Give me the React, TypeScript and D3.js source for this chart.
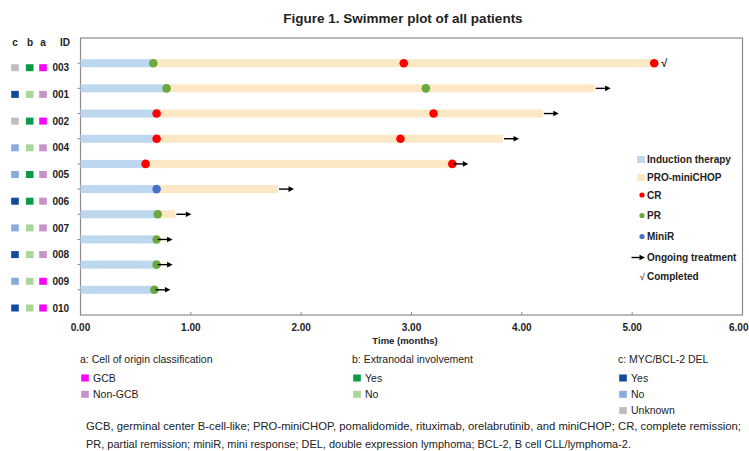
import React from 'react'
import * as d3 from 'd3'

// patients, top to bottom
const ids = ['003', '001', '002', '004', '005', '006', '007', '008', '009', '010']
// months
const inductionEnd = [0.66, 0.78, 0.69, 0.69, 0.59, 0.69, 0.7, 0.69, 0.69, 0.67]
const regimenEnd = [5.2, 4.66, 4.19, 3.83, 3.37, 1.79, 0.86, 0.69, 0.69, 0.67]
const ongoing = [false, true, true, true, true, true, true, true, true, true]

// [id, time, response]
const responses: [string, number, string][] = [
  ['003', 0.66, 'PR'], ['003', 2.93, 'CR'], ['003', 5.2, 'CR'],
  ['001', 0.78, 'PR'], ['001', 3.13, 'PR'],
  ['002', 0.69, 'CR'], ['002', 3.2, 'CR'],
  ['004', 0.69, 'CR'], ['004', 2.9, 'CR'],
  ['005', 0.59, 'CR'], ['005', 3.37, 'CR'],
  ['006', 0.69, 'MiniR'],
  ['007', 0.7, 'PR'],
  ['008', 0.69, 'PR'],
  ['009', 0.69, 'PR'],
  ['010', 0.67, 'PR'],
]

// a, b, c columns
const cellOrigin = ['GCB', 'Non-GCB', 'GCB', 'Non-GCB', 'Non-GCB', 'Non-GCB', 'Non-GCB', 'Non-GCB', 'GCB', 'GCB']
const extranodal = ['Yes', 'No', 'Yes', 'No', 'Yes', 'Yes', 'No', 'No', 'No', 'No']
const delStatus = ['Unknown', 'Yes', 'Unknown', 'No', 'No', 'Yes', 'No', 'Yes', 'No', 'Yes']

const xTicks = [0, 1, 2, 3, 4, 5, 6]

const originColor: Record<string, string> = { GCB: '#ff00ff', 'Non-GCB': '#c792c6' }
const extraColor: Record<string, string> = { Yes: '#0b9a4a', No: '#a9d798' }
const delColor: Record<string, string> = { Yes: '#124b9c', No: '#88aadf', Unknown: '#bdbdbd' }
const respColor: Record<string, string> = { CR: '#ff0000', PR: '#6aaa3c', MiniR: '#4472c4' }

const INDUCTION = '#bdd7ee'
const REGIMEN = '#fce8c4'
const FONT = '"Liberation Sans", Arial, sans-serif'
const TXT = '#222'

const left = 80.5, right = 742.5, top = 38, bottom = 315

const x = d3.scaleLinear().domain([0, 6]).range([left, right])
const y = d3.scalePoint<string>().domain(ids).range([top, bottom]).padding(1)
const yLabel = d3.scalePoint<string>().domain(ids).range([67.7, 308])
const fmt = d3.format('.2f')

const Arrow = ({ x0, yy, len }: { x0: number; yy: number; len: number }) => (
  <g>
    <line x1={x0} x2={x0 + len - 4} y1={yy} y2={yy} stroke="#000" strokeWidth={1.4} />
    <path d={`M${x0 + len},${yy} L${x0 + len - 5.5},${yy - 2.8} L${x0 + len - 5.5},${yy + 2.8} Z`} fill="#000" />
  </g>
)

const Sq = ({ cx, cy, color }: { cx: number; cy: number; color: string }) => (
  <rect x={cx - 3.8} y={cy - 3.5} width={7.6} height={7} fill={color} />
)

const sideLegend = [
  { label: 'Induction therapy', kind: 'rect', color: INDUCTION, y: 159.5 },
  { label: 'PRO-miniCHOP', kind: 'rect', color: REGIMEN, y: 177.5 },
  { label: 'CR', kind: 'dot', color: respColor.CR, y: 195 },
  { label: 'PR', kind: 'dot', color: respColor.PR, y: 215.5 },
  { label: 'MiniR', kind: 'dot', color: respColor.MiniR, y: 236.5 },
  { label: 'Ongoing treatment', kind: 'arrow', color: '#000', y: 257.5 },
  { label: 'Completed', kind: 'check', color: '#000', y: 276.5 },
]

const bottomLegends = [
  { title: 'a: Cell of origin classification', x: 80, keys: ['GCB', 'Non-GCB'], colors: originColor },
  { title: 'b: Extranodal involvement', x: 352, keys: ['Yes', 'No'], colors: extraColor },
  { title: 'c: MYC/BCL-2 DEL', x: 618, keys: ['Yes', 'No', 'Unknown'], colors: delColor },
]

export default function App() {
  return (
    <svg width={749} height={451} style={{ position: 'absolute', left: 0, top: 0, background: '#fff' }} fontFamily={FONT}>
      <rect width={749} height={451} fill="#fff" />
      <text x={403} y={22.5} textAnchor="middle" fontSize={13.5} fontWeight="bold" fill={TXT}>
        Figure 1. Swimmer plot of all patients
      </text>

      {/* frame */}
      <rect x={left} y={top} width={right - left} height={bottom - top} fill="none" stroke="#8a8a8a" strokeWidth={1.2} />

      {/* y ticks */}
      {ids.map(id => (
        <line key={id} x1={left - 3} x2={left} y1={y(id)} y2={y(id)} stroke="#8a8a8a" strokeWidth={1} />
      ))}
      {/* x axis */}
      {xTicks.map((t, k) => (
        <g key={t}>
          <line x1={x(t)} x2={x(t)} y1={bottom} y2={bottom - 3} stroke="#8a8a8a" />
          <text
            x={k === xTicks.length - 1 ? 748.5 : x(t)}
            y={330.5}
            textAnchor={k === xTicks.length - 1 ? 'end' : 'middle'}
            fontSize={10}
            fontWeight="bold"
            fill={TXT}
          >
            {fmt(t)}
          </text>
        </g>
      ))}
      <text x={405} y={344} textAnchor="middle" fontSize={9.5} fontWeight="bold" fill={TXT}>
        Time (months)
      </text>

      {/* swimmer bars */}
      {ids.map((id, i) => {
        const yy = y(id)!
        return (
          <g key={id}>
            <rect x={x(0)} y={yy - 4} width={x(inductionEnd[i]) - x(0)} height={8} fill={INDUCTION} />
            {regimenEnd[i] > inductionEnd[i] && (
              <rect x={x(inductionEnd[i])} y={yy - 4} width={x(regimenEnd[i]) - x(inductionEnd[i])} height={8} fill={REGIMEN} />
            )}
          </g>
        )
      })}
      {responses.map(([id, t, r], k) => (
        <circle key={k} cx={x(t)} cy={y(id)} r={4.3} fill={respColor[r]} />
      ))}
      {ids.map((id, i) =>
        ongoing[i] ? (
          <Arrow key={id} x0={x(regimenEnd[i]) + 1} yy={y(id)!} len={15} />
        ) : (
          <text key={id} x={x(regimenEnd[i]) + 7} y={y(id)! + 4} fontSize={11} fontWeight="bold" fill={TXT}>
            √
          </text>
        )
      )}

      {/* left table */}
      {['c', 'b', 'a'].map((h, k) => (
        <text key={h} x={[15, 30, 43][k]} y={46} textAnchor="middle" fontSize={10} fontWeight="bold" fill={TXT}>
          {h}
        </text>
      ))}
      <text x={65} y={46} textAnchor="middle" fontSize={10} fontWeight="bold" fill={TXT}>ID</text>
      {ids.map((id, i) => {
        const yy = yLabel(id)!
        return (
          <g key={id}>
            <Sq cx={15} cy={yy} color={delColor[delStatus[i]]} />
            <Sq cx={29.7} cy={yy} color={extraColor[extranodal[i]]} />
            <Sq cx={43} cy={yy} color={originColor[cellOrigin[i]]} />
            <text x={52.5} y={yy + 3.6} fontSize={10} fontWeight="bold" fill={TXT}>{id}</text>
          </g>
        )
      })}

      {/* side legend */}
      {sideLegend.map(d => (
        <g key={d.label}>
          {d.kind === 'rect' && <rect x={637} y={d.y - 3.5} width={8} height={7} fill={d.color} />}
          {d.kind === 'dot' && <circle cx={642} cy={d.y} r={2.6} fill={d.color} />}
          {d.kind === 'arrow' && <Arrow x0={631.5} yy={d.y} len={13.5} />}
          {d.kind === 'check' && (
            <text x={639.5} y={d.y + 3.5} fontSize={9.5} fill={TXT}>√</text>
          )}
          <text x={647} y={d.y + 3.6} fontSize={10} fontWeight="bold" fill={TXT}>{d.label}</text>
        </g>
      ))}

      {/* bottom legends */}
      {bottomLegends.map(g => (
        <g key={g.title}>
          <text x={g.x} y={363} fontSize={10.5} fill={TXT}>{g.title}</text>
          {g.keys.map((k, j) => (
            <g key={k}>
              <Sq cx={g.x + 5} cy={378 + j * 16.3} color={g.colors[k]} />
              <text x={g.x + 13} y={378 + j * 16.3 + 3.7} fontSize={10.5} fill={TXT}>{k}</text>
            </g>
          ))}
        </g>
      ))}

      <text x={86} y={430} fontSize={11} fill={TXT} textLength={655} lengthAdjust="spacingAndGlyphs">
        GCB, germinal center B-cell-like; PRO-miniCHOP, pomalidomide, rituximab, orelabrutinib, and miniCHOP; CR, complete remission;
      </text>
      <text x={86} y={448} fontSize={11} fill={TXT} textLength={545} lengthAdjust="spacingAndGlyphs">
        PR, partial remission; miniR, mini response; DEL, double expression lymphoma; BCL-2, B cell CLL/lymphoma-2.
      </text>
    </svg>
  )
}
